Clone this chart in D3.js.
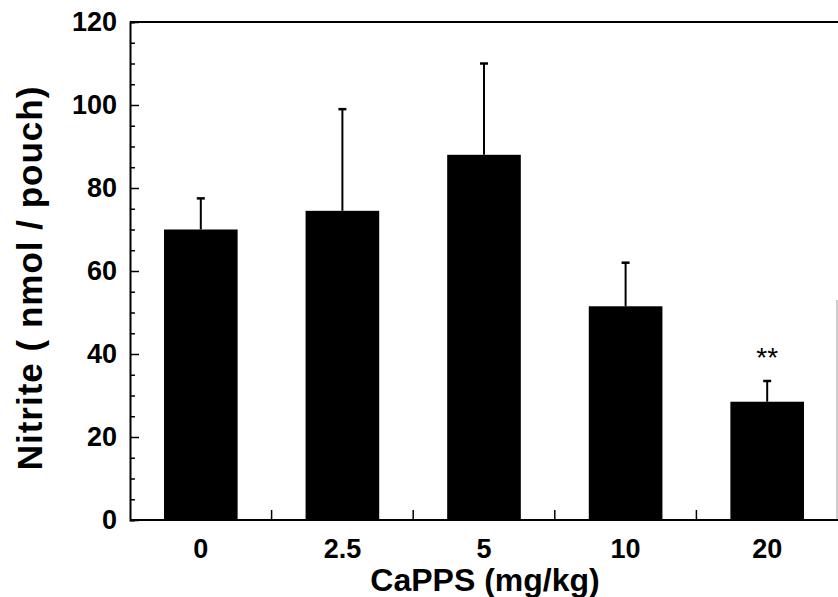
<!DOCTYPE html>
<html>
<head>
<meta charset="utf-8">
<script src="https://cdn.jsdelivr.net/npm/d3@7"></script>
<style>
    body { margin: 0; background: #fff; }
    text { font-family: "Liberation Sans", Arial, Helvetica, sans-serif; font-weight: bold; fill: #000; }
</style>
</head>
<body>
<div id="chart"></div>
<script>
// data
var doses = ["0", "2.5", "5", "10", "20"];
var nitrite = [70, 74.5, 88, 51.5, 28.5];
var errors = [7.5, 24.5, 22, 10.5, 5];
var marks = ["", "", "", "", "**"];
var yTicks = [0, 20, 40, 60, 80, 100, 120];

BarChart = function(_parentElement) {
    vis = this;

    this.parentElement = _parentElement;
    this.svgWidth = 838;
    this.svgHeight = 597;
    this.margin = { top: 22, right: 0, bottom: 77, left: 130 };
    this.width = vis.svgWidth - vis.margin.left - vis.margin.right;
    this.height = vis.svgHeight - vis.margin.top - vis.margin.bottom;

    this.initVis();
};

BarChart.prototype.initVis = function() {
    vis = this;

    vis.svg = d3.select("#" + vis.parentElement).append("svg")
        .attr("width", vis.svgWidth)
        .attr("height", vis.svgHeight)
        .append("g")
        .attr("transform", "translate(" + vis.margin.left + "," + vis.margin.top + ")");

    vis.x = d3.scaleBand()
        .domain(doses)
        .range([0, vis.width]);

    vis.y = d3.scaleLinear()
        .domain([0, 120])
        .range([vis.height, 0]);

    vis.drawBars();
    vis.drawAxes();
};

BarChart.prototype.drawBars = function() {
    vis = this;
    var barW = vis.x.bandwidth() * 0.52;

    // error bars first, bar covers the lower end
    for (i = 0; i < doses.length; i++) {
        var cx = vis.x(doses[i]) + vis.x.bandwidth() / 2;
        var top = vis.y(nitrite[i] + errors[i]);

        vis.svg.append("line")
            .attr("x1", cx).attr("x2", cx)
            .attr("y1", vis.y(nitrite[i])).attr("y2", top)
            .attr("stroke", "#000").attr("stroke-width", 2);

        vis.svg.append("line")
            .attr("x1", cx - 4).attr("x2", cx + 4)
            .attr("y1", top).attr("y2", top)
            .attr("stroke", "#000").attr("stroke-width", 2.5);

        vis.svg.append("rect")
            .attr("x", cx - barW / 2)
            .attr("y", vis.y(nitrite[i]))
            .attr("width", barW)
            .attr("height", vis.height - vis.y(nitrite[i]))
            .attr("fill", "#000");

        if (marks[i]) {
            vis.svg.append("text")
                .attr("x", cx)
                .attr("y", top - 14)
                .attr("text-anchor", "middle")
                .attr("font-size", "28px")
                .style("font-weight", "normal")
                .text(marks[i]);
        }
    }
};

BarChart.prototype.drawAxes = function() {
    vis = this;

    // frame: top line and faint right edge
    vis.svg.append("line")
        .attr("x1", 0).attr("x2", vis.width)
        .attr("y1", 0).attr("y2", 0)
        .attr("stroke", "#000").attr("stroke-width", 2);
    vis.svg.append("line")
        .attr("x1", vis.width - 1).attr("x2", vis.width - 1)
        .attr("y1", vis.y(53)).attr("y2", vis.height)
        .attr("stroke", "#bbb").attr("stroke-width", 1.5);

    // y axis, ticks point inward
    var yAxis = vis.svg.append("g")
        .call(d3.axisRight(vis.y).tickValues(d3.range(0, 121, 5)).tickSize(5).tickFormat(""));
    yAxis.selectAll(".tick line")
        .attr("x2", function(d) { return d % 20 === 0 ? 9 : 5; })
        .attr("stroke-width", 1.5);
    yAxis.select(".domain").attr("stroke-width", 2);

    vis.svg.selectAll(".ylabel")
        .data(yTicks)
        .enter().append("text")
        .attr("class", "ylabel")
        .attr("x", -13)
        .attr("y", function(d) { return vis.y(d); })
        .attr("dy", "0.35em")
        .attr("text-anchor", "end")
        .attr("font-size", "27px")
        .text(function(d) { return d; });

    // x axis, ticks between groups pointing up
    var xAxis = vis.svg.append("g")
        .attr("transform", "translate(0," + vis.height + ")");
    xAxis.append("line")
        .attr("x1", 0).attr("x2", vis.width)
        .attr("stroke", "#000").attr("stroke-width", 2);
    xAxis.selectAll(".xtick")
        .data(doses.slice(1))
        .enter().append("line")
        .attr("class", "xtick")
        .attr("x1", function(d) { return vis.x(d); })
        .attr("x2", function(d) { return vis.x(d); })
        .attr("y1", 0).attr("y2", -10)
        .attr("stroke", "#000").attr("stroke-width", 1.5);
    xAxis.selectAll(".xlabel")
        .data(doses)
        .enter().append("text")
        .attr("class", "xlabel")
        .attr("x", function(d) { return vis.x(d) + vis.x.bandwidth() / 2; })
        .attr("y", 38)
        .attr("text-anchor", "middle")
        .attr("font-size", "27px")
        .text(function(d) { return d; });

    // axis titles
    vis.svg.append("text")
        .attr("x", vis.width / 2 + 1)
        .attr("y", vis.height + 71)
        .attr("text-anchor", "middle")
        .attr("font-size", "32px")
        .text("CaPPS (mg/kg)");

    vis.svg.append("text")
        .attr("transform", "translate(" + (-100) + "," + (278 - vis.margin.top) + ") rotate(-90)")
        .attr("dy", "0.35em")
        .attr("text-anchor", "middle")
        .attr("font-size", "35px")
        .attr("letter-spacing", "1px")
        .text("Nitrite ( nmol / pouch)");
};

new BarChart("chart");
</script>
</body>
</html>
